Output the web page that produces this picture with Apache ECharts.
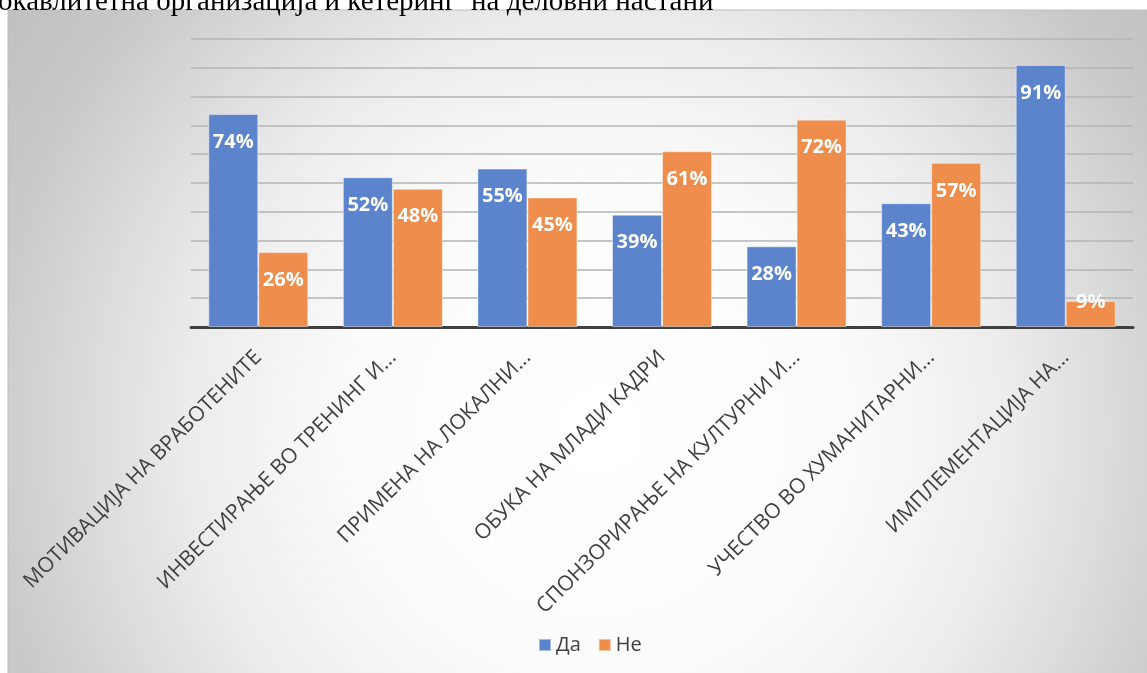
<!DOCTYPE html>
<html>
<head>
<meta charset="utf-8">
<script src="https://cdn.jsdelivr.net/npm/echarts@6/dist/echarts.min.js"></script>
<style>
html,body{margin:0;padding:0;background:#fff;}
#chart{width:1147px;height:673px;}
</style>
</head>
<body>
<div id="chart"></div>
<script>
const titleText = 'окавлитетна организација и кетеринг  на деловни настани';
const categories = [
  'МОТИВАЦИЈА НА ВРАБОТЕНИТЕ',
  'ИНВЕСТИРАЊЕ ВО ТРЕНИНГ И...',
  'ПРИМЕНА НА ЛОКАЛНИ...',
  'ОБУКА НА МЛАДИ КАДРИ',
  'СПОНЗОРИРАЊЕ НА КУЛТУРНИ И...',
  'УЧЕСТВО ВО ХУМАНИТАРНИ...',
  'ИМПЛЕМЕНТАЦИЈА НА...'
];
const seriesNames = ['Да', 'Не'];
const daValues = [74, 52, 55, 39, 28, 43, 91];
const neValues = [26, 48, 45, 61, 72, 57, 9];

const chart = echarts.init(document.getElementById('chart'), null, {renderer: 'canvas'});

const labelBase = {
  show: true,
  position: 'insideTop',
  distance: 16,
  color: '#ffffff',
  fontFamily: 'Open Sans',
  fontWeight: 'bold',
  fontSize: 20,
  lineHeight: 24,
  formatter: '{c}%'
};

function makeData(values) {
  return values.map(v => {
    if (v < 15) {
      return {value: v, label: {distance: -11}};
    }
    return v;
  });
}

const option = {
  animation: false,
  graphic: [
    {
      type: 'rect',
      z: -10,
      silent: true,
      shape: {x: 8, y: 10, width: 1160, height: 680},
      style: {
        fill: {
          type: 'radial', x: 600, y: 430, r: 720, global: true,
          colorStops: [
            {offset: 0, color: '#ffffff'},
            {offset: 0.35, color: '#fbfbfb'},
            {offset: 0.57, color: '#ececec'},
            {offset: 0.78, color: '#d3d3d3'},
            {offset: 0.86, color: '#c9c9c9'},
            {offset: 1, color: '#c0c0c0'}
          ]
        },
        stroke: '#bdbdbd',
        lineWidth: 1
      }
    },
    {
      type: 'text',
      z: 10,
      silent: true,
      left: -2,
      top: -12,
      style: {
        text: titleText,
        fill: '#000000',
        font: '29px "Liberation Serif"'
      }
    }
  ],
  grid: {left: 191, right: 14, top: 39, bottom: 346, containLabel: false},
  legend: {
    data: seriesNames,
    left: 533,
    top: 630,
    icon: 'rect',
    itemWidth: 12,
    itemHeight: 12,
    itemGap: 17,
    textStyle: {color: '#404040', fontSize: 20, fontFamily: 'Open Sans'}
  },
  xAxis: {
    type: 'category',
    data: categories,
    axisLine: {lineStyle: {color: '#404040', width: 3}},
    axisTick: {show: false},
    axisLabel: {
      interval: 0,
      rotate: 45,
      margin: 27,
      color: '#404040',
      fontFamily: 'Open Sans',
      fontSize: 21
    }
  },
  yAxis: {
    type: 'value',
    min: 0,
    max: 100,
    interval: 10,
    axisLabel: {show: false},
    axisLine: {show: false},
    axisTick: {show: false},
    splitLine: {lineStyle: {color: '#b4b4b4', width: 1.5}}
  },
  series: [
    {
      name: seriesNames[0],
      type: 'bar',
      data: makeData(daValues),
      barWidth: 50,
      barGap: '0%',
      itemStyle: {color: '#5b84cd', borderColor: 'rgba(255,255,255,0.45)', borderWidth: 1},
      label: labelBase
    },
    {
      name: seriesNames[1],
      type: 'bar',
      data: makeData(neValues),
      barWidth: 50,
      barGap: '0%',
      itemStyle: {color: '#ee8d4c', borderColor: 'rgba(255,255,255,0.45)', borderWidth: 1},
      label: labelBase
    }
  ]
};
chart.setOption(option);
</script>
</body>
</html>
